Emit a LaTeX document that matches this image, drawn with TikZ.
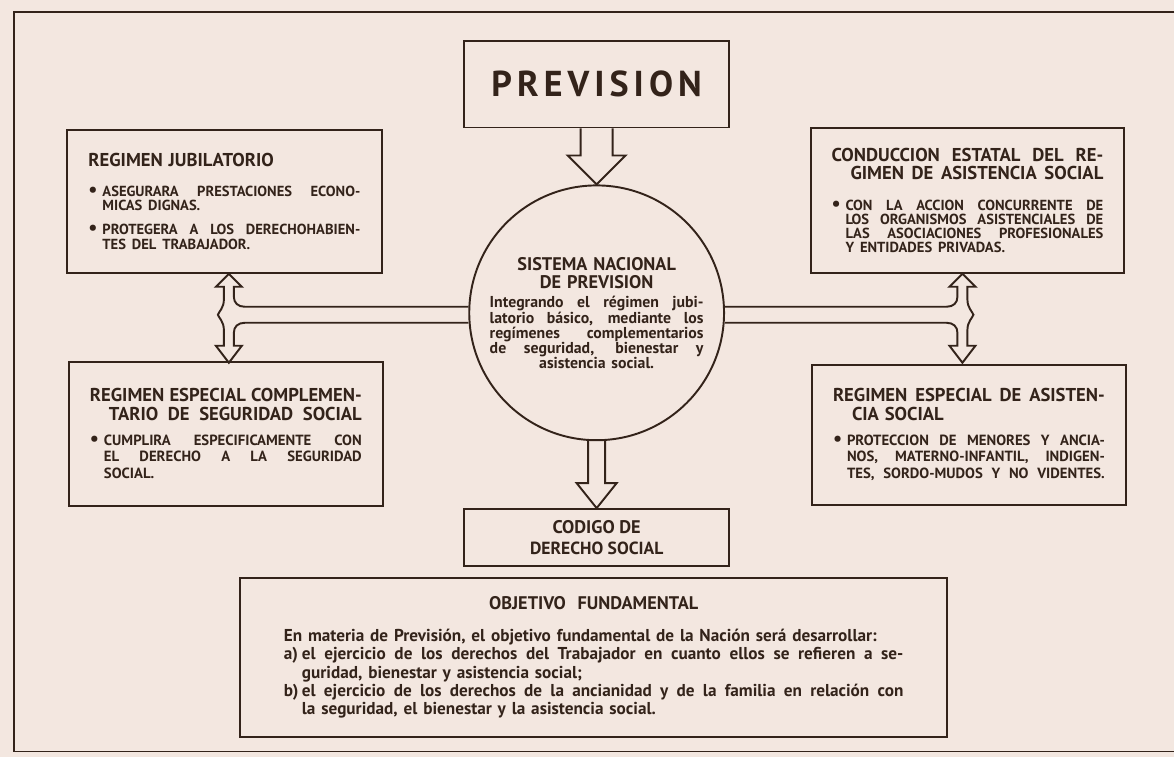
\documentclass[tikz,border=0pt]{standalone}
\usepackage{fontspec}
\setmainfont{PT Sans}
\usepackage{xcolor}
\usetikzlibrary{positioning, calc}

\definecolor{paper}{HTML}{F3E7E0}
\definecolor{ink}{HTML}{33231A}

% tight leading as in the print
\setlength{\lineskiplimit}{-20pt}
\setlength{\normallineskiplimit}{-20pt}
% indents used inside the boxes
\newlength{\bulind}\setlength{\bulind}{0.28cm}
\newlength{\hedind}\setlength{\hedind}{0.38cm}
\newlength{\objind}\setlength{\objind}{0.36cm}
% one justified line, one indented justified line, one indented ragged line
\newcommand{\jline}[1]{\noindent\makebox[\hsize][s]{\spaceskip=0pt\xspaceskip=0pt #1}\par}
\newcommand{\iline}[2]{\noindent\hspace*{#1}\makebox[\dimexpr\hsize-#1\relax][s]{\spaceskip=0pt\xspaceskip=0pt #2}\par}
\newcommand{\lline}[2]{\noindent\hspace*{#1}#2\par}
% marked line (bullet, a), b)) followed by justified text
\newcommand{\mline}[3]{\noindent\makebox[#1][l]{#2}\makebox[\dimexpr\hsize-#1\relax][s]{\spaceskip=0pt\xspaceskip=0pt #3}\par}
\newcommand{\bigdot}{{\fontsize{11.5}{0}\selectfont\textbullet}}
\newcommand{\bline}[1]{\mline{\bulind}{\bigdot}{#1}}
\newcommand{\headfont}{\fontsize{10.6}{10.6}\selectfont}
\newcommand{\bulfont}{\fontsize{8.3}{8}\selectfont}
\newcommand{\bulfontb}{\fontsize{8.4}{9.6}\selectfont}

\begin{document}
\begin{tikzpicture}[
    x=0.02cm, y=-0.02cm,
    every node/.style={color=ink, font=\bfseries},
    box/.style={draw=ink, line width=1.1pt, rectangle, align=left,
                text width=5.44cm, inner sep=0pt},
    titlebox/.style={draw=ink, line width=1.1pt, rectangle, align=center,
                minimum width=5.3cm, inner sep=0pt},
    circ/.style={draw=ink, line width=1.1pt, circle, minimum size=5.1cm,
                 inner sep=0pt, text width=4.28cm, align=center},
    hollow/.style={draw=ink, line width=1.1pt, line join=miter},
    pipe/.style={draw=ink, line width=1.1pt},
    frameline/.style={draw=ink, line width=0.8pt}
]

% --- paper and outer frame ---
\fill[paper] (0,0) rectangle (1175,757);
\draw[frameline] (1175,12) -| (14,752) -- (1175,752);

% --- centre column ---
\node[circ] (sist) at (597,313) {%
  {\fontsize{10.4}{10.4}\selectfont SISTEMA NACIONAL\\DE PREVISION\par}
  \vspace{2.6pt}
  {\fontsize{9}{8.6}\selectfont
  \jline{Integrando el régimen jubi-}
  \jline{latorio básico, mediante los}
  \jline{regímenes complementarios}
  \jline{de seguridad, bienestar y}
  asistencia social.\par}
};
\node[titlebox, minimum height=1.74cm, above=1.12cm of sist] (prev)
  {\fontsize{20.5}{24}\selectfont\addfontfeatures{LetterSpace=14}PREVISION};
\node[titlebox, minimum height=1.14cm, below=1.34cm of sist] (codigo)
  {\fontsize{10.4}{11.3}\selectfont CODIGO DE\\DERECHO SOCIAL};
\node[titlebox, minimum width=14.16cm, minimum height=3.18cm, text width=12.4cm,
      align=left] (obj) at (594,657.5) {%
  {\fontsize{10.4}{12}\selectfont\centering OBJETIVO\ \ FUNDAMENTAL\par}
  \vspace{8.2pt}
  {\fontsize{9.8}{10.3}\selectfont
  \lline{0pt}{En materia de Previsión, el objetivo fundamental de la Nación será desarrollar:}
  \mline{\objind}{a)}{el ejercicio de los derechos del Trabajador en cuanto ellos se refieren a se-}
  \lline{\objind}{guridad, bienestar y asistencia social;}
  \mline{\objind}{b)}{el ejercicio de los derechos de la ancianidad y de la familia en relación con}
  \lline{\objind}{la seguridad, el bienestar y la asistencia social.}}
};

% --- left boxes ---
\node[box, minimum width=6.3cm, minimum height=2.86cm] (jubil) at (224.5,201.5) {%
  {\headfont REGIMEN JUBILATORIO\par}
  \vspace{9pt}
  {\bulfont
  \bline{ASEGURARA PRESTACIONES ECONO-}
  \lline{\bulind}{MICAS DIGNAS.}
  \vspace{5.8pt}
  \bline{PROTEGERA A LOS DERECHOHABIEN-}
  \lline{\bulind}{TES DEL TRABAJADOR.}}
};
\node[box, minimum width=6.28cm, minimum height=2.88cm] (compl) at (226,434) {%
  {\headfont
  \jline{REGIMEN ESPECIAL COMPLEMEN-}
  \iline{\hedind}{TARIO DE SEGURIDAD SOCIAL}}
  \vspace{4.4pt}
  {\bulfontb
  \bline{CUMPLIRA ESPECIFICAMENTE CON}
  \iline{\bulind}{EL DERECHO A LA SEGURIDAD}
  \lline{\bulind}{SOCIAL.}}
};

% --- right boxes ---
\node[box, minimum width=6.28cm, minimum height=2.9cm] (estatal) at (968,200.5) {%
  {\headfont
  \jline{CONDUCCION ESTATAL DEL RE-}
  \iline{\hedind}{GIMEN DE ASISTENCIA SOCIAL}}
  \vspace{9.4pt}
  {\bulfont
  \bline{CON LA ACCION CONCURRENTE DE}
  \iline{\bulind}{LOS ORGANISMOS ASISTENCIALES DE}
  \iline{\bulind}{LAS ASOCIACIONES PROFESIONALES}
  \lline{\bulind}{Y ENTIDADES PRIVADAS.}}
};
\node[box, minimum width=6.3cm, minimum height=2.8cm] (asist) at (969.5,435) {%
  {\headfont
  \jline{REGIMEN ESPECIAL DE ASISTEN-}
  \lline{\hedind}{CIA SOCIAL}}
  \vspace{4.4pt}
  {\bulfontb
  \bline{PROTECCION DE MENORES Y ANCIA-}
  \iline{\bulind}{NOS, MATERNO-INFANTIL, INDIGEN-}
  \iline{\bulind}{TES, SORDO-MUDOS Y NO VIDENTES.}}
};

% --- hollow arrows down the centre ---
\draw[hollow] ($(prev.south)+(-16,0)$) |- ($(prev.south)+(-29,27)$)
    -- (prev.south |- sist.north) -- ($(prev.south)+(29,27)$) -| ($(prev.south)+(16,0)$);
\draw[hollow] ($(codigo.north |- sist.south)+(-8.5,0)$) |- ($(codigo.north)+(-20,-25)$)
    -- (codigo.north) -- ($(codigo.north)+(20,-25)$) -| ($(codigo.north |- sist.south)+(8.5,0)$);

% --- double pipes to the side boxes (tip of the upper arrow at the origin) ---
\coordinate (lt) at ($(jubil.south)+(4.5,0)$);
\coordinate (rt) at ($(estatal.south)+(-5,0)$);
\begin{scope}[shift={(lt)}]
\draw[pipe] (sist.west |- 0,33) -- (16,33) .. controls (9,33) and (5,29) .. (5,23)
    -- (5,13) -- (13,13) -- (0,0) -- (-13,13) -- (-5,13) -- (-5,26)
    .. controls (-5,34) and (-10,38) .. (-11,41) .. controls (-10,44) and (-5,48) .. (-5,56)
    -- (-5,72) -- (-13,72) -- (0,89) -- (13,72) -- (5,72) -- (5,59)
    .. controls (5,53) and (9,49) .. (16,49) -- (sist.west |- 0,49);
\end{scope}
\begin{scope}[shift={(rt)}, xscale=-1]
\draw[pipe] (sist.east |- 0,33) -- (16,33) .. controls (9,33) and (5,29) .. (5,23)
    -- (5,13) -- (13,13) -- (0,0) -- (-13,13) -- (-5,13) -- (-5,26)
    .. controls (-5,34) and (-10,38) .. (-11,41) .. controls (-10,44) and (-5,48) .. (-5,56)
    -- (-5,72) -- (-13,72) -- (0,89) -- (13,72) -- (5,72) -- (5,59)
    .. controls (5,53) and (9,49) .. (16,49) -- (sist.east |- 0,49);
\end{scope}

\end{tikzpicture}
\end{document}
